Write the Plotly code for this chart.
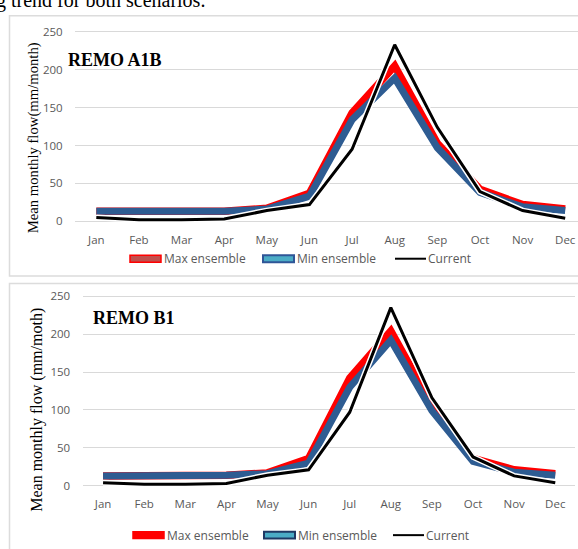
import plotly.graph_objects as go

# ---------------- data ----------------
months = ["Jan", "Feb", "Mar", "Apr", "May", "Jun", "Jul", "Aug", "Sep", "Oct", "Nov", "Dec"]

a1b_max = [13, 12, 13, 13, 17, 37, 143, 205, 103, 42, 22, 16]
a1b_min = [13, 12, 13, 13, 16, 33, 134, 189, 97, 38, 19, 14]
a1b_cur = [5, 2, 2, 3, 14, 22, 95, 233, 124, 39, 14, 4]

b1_max = [13, 13, 14, 14, 17, 36, 142, 204, 106, 36, 21, 16]
b1_min = [13, 13, 14, 14, 16, 30, 130, 192, 99, 32, 18, 14]
b1_cur = [4, 2, 2, 3, 14, 21, 97, 235, 116, 38, 13, 4]

y_ticks = [0, 50, 100, 150, 200, 250]
panel_titles = ["REMO A1B", "REMO B1"]
y_titles = ["Mean monthly flow(mm/month)", "Mean monthly flow (mm/moth)"]
legend_names = ["Max ensemble", "Min ensemble", "Current"]

W, H = 578, 549
def px(x): return x / W
def py(y): return 1 - y / H

RED = "#FF0000"
BLUE = "#2E5C92"
BLACK = "#000000"
GRID = "#D9D9D9"
TXT = "#595959"

fig = go.Figure()

def add_panel(xa, ya, vmax, vmin, vcur):
    fig.add_trace(go.Scatter(x=months, y=vmax, mode="lines", line=dict(color=RED, width=7.5),
                             xaxis=xa, yaxis=ya, showlegend=False, name=legend_names[0]))
    fig.add_trace(go.Scatter(x=months, y=vmin, mode="lines", line=dict(color=BLUE, width=7),
                             xaxis=xa, yaxis=ya, showlegend=False, name=legend_names[1]))
    fig.add_trace(go.Scatter(x=months, y=vcur, mode="lines", line=dict(color="white", width=6),
                             xaxis=xa, yaxis=ya, showlegend=False, hoverinfo="skip"))
    fig.add_trace(go.Scatter(x=months, y=vcur, mode="lines", line=dict(color=BLACK, width=3),
                             xaxis=xa, yaxis=ya, showlegend=False, name=legend_names[2]))

add_panel("x", "y", a1b_max, a1b_min, a1b_cur)
add_panel("x2", "y2", b1_max, b1_min, b1_cur)

tickfont = dict(family="Open Sans", size=11.5, color=TXT)
xcommon = dict(type="category", categoryorder="array", categoryarray=months,
               showgrid=False, zeroline=False, showline=False,
               ticks="outside", ticklen=4, tickcolor="rgba(0,0,0,0)", tickfont=tickfont)
ycommon = dict(range=[-5, 255], tickvals=y_ticks, showgrid=True, gridcolor=GRID, gridwidth=1,
               zeroline=False, showline=False, ticks="outside", ticklen=9,
               tickcolor="rgba(0,0,0,0)", tickfont=tickfont)

fig.update_layout(
    width=W, height=H, margin=dict(l=0, r=0, t=0, b=0),
    paper_bgcolor="white", plot_bgcolor="white", showlegend=False,
    xaxis=dict(xcommon, domain=[px(75), 1], range=[-0.5, 11.3], anchor="y"),
    yaxis=dict(ycommon, domain=[py(223.84), py(24.46)], anchor="x"),
    xaxis2=dict(xcommon, domain=[px(82.5), px(575)], range=[-0.5, 11.48], anchor="y2"),
    yaxis2=dict(ycommon, domain=[py(491.84), py(292.16)], anchor="x2"),
)

shapes = []
annotations = []

# panel frames
shapes.append(dict(type="rect", xref="paper", yref="paper", x0=px(9.5), x1=px(600),
                   y0=py(275.5), y1=py(12), line=dict(color="#DCDCDC", width=1.5), layer="below"))
shapes.append(dict(type="rect", xref="paper", yref="paper", x0=px(9.5), x1=px(600),
                   y0=py(600), y1=py(283), line=dict(color="#DCDCDC", width=1.5), layer="below"))

# partial caption text at very top
annotations.append(dict(text="g trend for both scenarios.", xref="paper", yref="paper",
                        x=px(-6), y=py(-4), xanchor="left", yanchor="middle", showarrow=False,
                        font=dict(family="Liberation Serif", size=20, color="black")))

# panel titles
annotations.append(dict(text="<b>%s</b>" % panel_titles[0], xref="paper", yref="paper",
                        x=px(66), y=py(57), xanchor="left", yanchor="middle", showarrow=False,
                        font=dict(family="Liberation Serif", size=18, color="black")))
annotations.append(dict(text="<b>%s</b>" % panel_titles[1], xref="paper", yref="paper",
                        x=px(91), y=py(318), xanchor="left", yanchor="middle", showarrow=False,
                        font=dict(family="Liberation Serif", size=18, color="black")))

# y titles
annotations.append(dict(text=y_titles[0], xref="paper", yref="paper", x=px(33), y=py(136),
                        textangle=-90, showarrow=False, xanchor="center", yanchor="middle",
                        font=dict(family="Liberation Serif", size=14.7, color="black")))
annotations.append(dict(text=y_titles[1], xref="paper", yref="paper", x=px(37), y=py(411),
                        textangle=-90, showarrow=False, xanchor="center", yanchor="middle",
                        font=dict(family="Liberation Serif", size=16, color="black")))

# manual legends
def legend(yc, red_x, red_fill, blue_x, blue_line, black_x):
    lf = dict(family="Open Sans", size=12, color=TXT)
    shapes.append(dict(type="rect", xref="paper", yref="paper", x0=px(red_x), x1=px(red_x + 31),
                       y0=py(yc + 3.5), y1=py(yc - 3.5), fillcolor=red_fill,
                       line=dict(color=RED, width=1.5)))
    annotations.append(dict(text=legend_names[0], xref="paper", yref="paper", x=px(red_x + 32),
                            y=py(yc), xanchor="left", yanchor="middle", showarrow=False, font=lf))
    shapes.append(dict(type="rect", xref="paper", yref="paper", x0=px(blue_x), x1=px(blue_x + 31),
                       y0=py(yc + 3.5), y1=py(yc - 3.5), fillcolor="#4BACC6",
                       line=dict(color=blue_line, width=2)))
    annotations.append(dict(text=legend_names[1], xref="paper", yref="paper", x=px(blue_x + 32),
                            y=py(yc), xanchor="left", yanchor="middle", showarrow=False, font=lf))
    shapes.append(dict(type="line", xref="paper", yref="paper", x0=px(black_x), x1=px(black_x + 31),
                       y0=py(yc), y1=py(yc), line=dict(color=BLACK, width=2)))
    annotations.append(dict(text=legend_names[2], xref="paper", yref="paper", x=px(black_x + 31),
                            y=py(yc), xanchor="left", yanchor="middle", showarrow=False, font=lf))

legend(258, 130, "#C0504D", 263, "#2F5597", 395)
legend(538, 133, RED, 264, "#1F3864", 393)

fig.update_layout(shapes=shapes, annotations=annotations)
fig.write_html("out.html", config={"displayModeBar": False},
               post_script="document.body.style.margin='0';document.body.style.overflow='hidden';")
